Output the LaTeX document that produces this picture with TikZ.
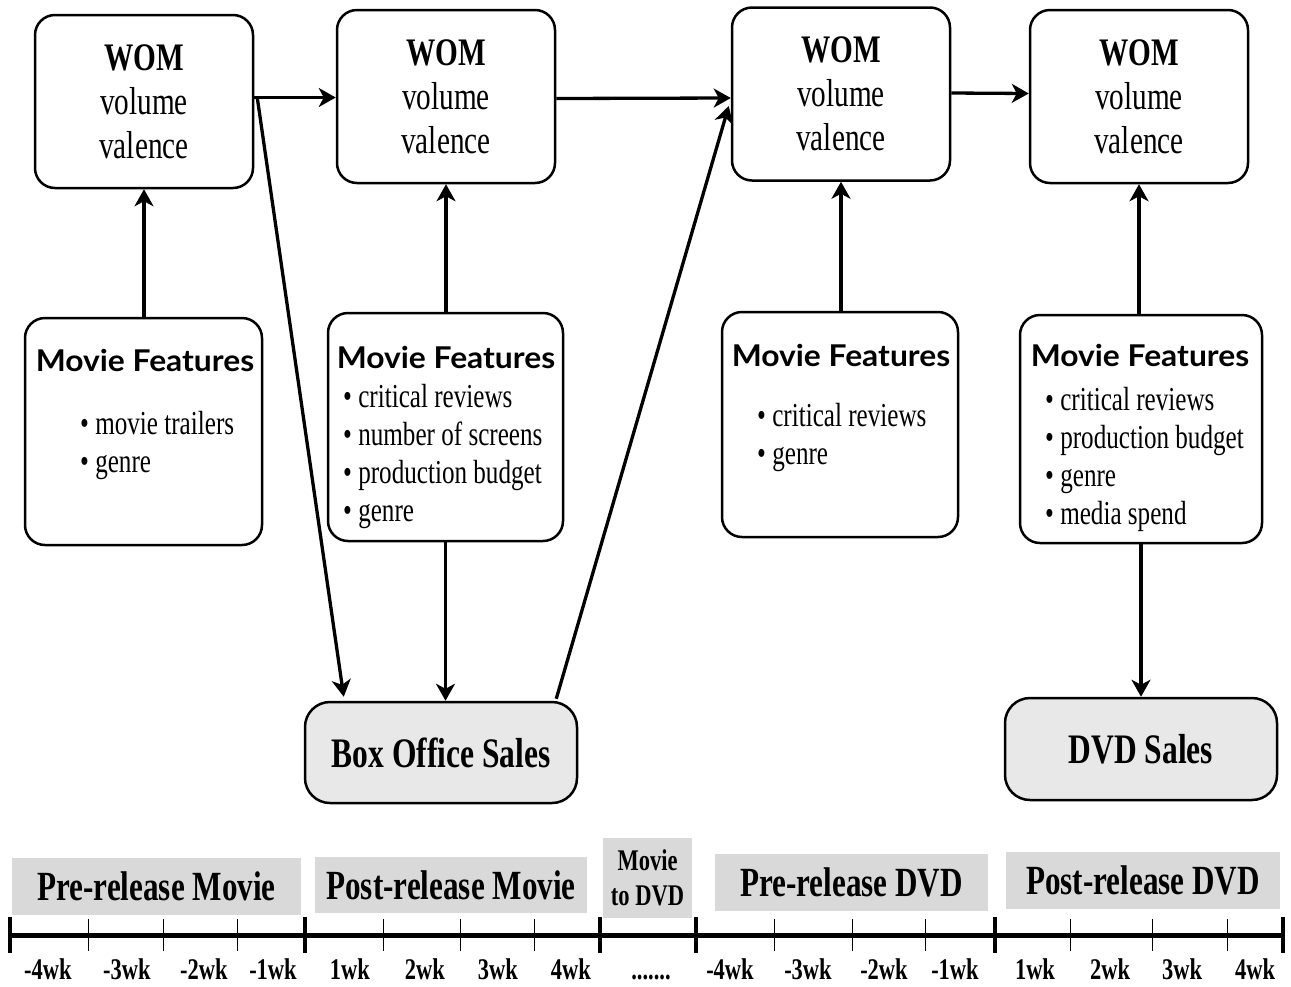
\documentclass[tikz,border=0pt]{standalone}
\usepackage{fontspec}
\setmainfont{Liberation Serif}
\newfontfamily\cserif[FakeStretch=0.75]{Liberation Serif}
\newfontfamily\sansb[FakeStretch=1.06]{Lato}
\usetikzlibrary{arrows.meta,calc}
\definecolor{lblgray}{HTML}{D9D9D9}
\definecolor{salesgray}{HTML}{E8E8E8}
\begin{document}
\begin{tikzpicture}[x=1pt,y=-1pt,
  wombox/.style={draw, line width=2.5pt, rounded corners=20pt, minimum width=218pt, minimum height=173pt, align=center, inner sep=0pt, font=\cserif\fontsize{39}{44}\selectfont},
  mfbox/.style={draw, line width=2.5pt, rounded corners=20pt, inner sep=0pt},
  salesbox/.style={draw, line width=2.5pt, rounded corners=25pt, fill=salesgray, inner sep=0pt, font=\cserif\bfseries\fontsize{42}{44}\selectfont},
  mftitle/.style={font=\sansb\bfseries\fontsize{30}{32}\selectfont, inner sep=0pt},
  bullets/.style={align=left, inner sep=0pt, anchor=north west, font=\cserif\fontsize{33.5}{38}\selectfont},
  arr/.style={line width=3.3pt, -{Stealth[length=17pt,width=19pt,inset=5pt]}},
  phase/.style={fill=lblgray, inner sep=0pt, font=\cserif\bfseries\fontsize{41.5}{42}\selectfont},
  wk/.style={font=\cserif\bfseries\fontsize{30}{30}\selectfont, inner sep=0pt},
  bigtick/.style={line width=3.5pt},
  smalltick/.style={line width=1pt}
]
\useasboundingbox (0,0) rectangle (1291,986);

% WOM boxes
\node[wombox] (w1) at (144,101.5) {{\bfseries WOM}\\volume\\valence};
\node[wombox] (w2) at (446,96.5) {{\bfseries WOM}\\volume\\valence};
\node[wombox] (w3) at (841,94) {{\bfseries WOM}\\volume\\valence};
\node[wombox] (w4) at (1139,96.5) {{\bfseries WOM}\\volume\\valence};

% Movie feature boxes
\node[mfbox, minimum width=237pt, minimum height=227pt] (m1) at (143.5,431.5) {};
\node[mfbox, minimum width=235pt, minimum height=228pt] (m2) at (445.5,427) {};
\node[mfbox, minimum width=236pt, minimum height=225pt] (m3) at (840,424.5) {};
\node[mfbox, minimum width=242pt, minimum height=228pt] (m4) at (1141,429) {};

\node[mftitle] (mt1) at (145,360) {Movie Features};
\node[mftitle] (mt2) at (446,357) {Movie Features};
\node[mftitle] (mt3) at (841,355) {Movie Features};
\node[mftitle] (mt4) at (1140,355) {Movie Features};

\node[bullets] (b1) at (80,411) {• movie trailers\\• genre};
\node[bullets] (b2) at (343,384) {• critical reviews\\• number of screens\\• production budget\\• genre};
\node[bullets] (b3) at (757,403) {• critical reviews\\• genre};
\node[bullets] (b4) at (1045,387) {• critical reviews\\• production budget\\• genre\\• media spend};

% Sales boxes
\node[salesbox, minimum width=272pt, minimum height=101pt] (bo) at (441,752.5) {Box Office Sales};
\node[salesbox, minimum width=272pt, minimum height=102pt] (dvd) at (1141,749) {DVD Sales};

% Connectors
\draw[arr] (m1.north -| w1.south) -- (w1.south);
\draw[arr] (m2.north -| w2.south) -- (w2.south);
\draw[arr] (m3.north -| w3.south) -- (w3.south);
\draw[arr] (m4.north -| w4.south) -- (w4.south);
\draw[arr] ($(w1.east)+(0,-4)$) -- ($(w2.west)+(0,1)$);
\draw[arr] ($(w2.east)+(0,2)$) -- ($(w3.west)+(0,4)$);
\draw[arr] ($(w3.east)+(0,-1)$) -- ($(w4.west)+(0,-3)$);
\draw[arr] ($(w1.east)+(3,-4)$) -- ($(bo.north west)+(40,-4)$);
\draw[arr] (m2.south) -- (bo.north -| m2.south);
\draw[arr] ($(bo.north east)+(-22,-2)$) -- ($(w3.west)+(-2,12)$);
\draw[arr] (m4.south -| dvd.north) -- (dvd.north);

% Phase labels
\node[phase, minimum width=289pt, minimum height=57pt] (p1) at (156.5,886.5) {Pre-release Movie};
\node[phase, minimum width=272pt, minimum height=56pt] (p2) at (451,885) {Post-release Movie};
\node[phase, minimum width=89pt, minimum height=80pt, align=center, font=\cserif\bfseries\fontsize{30}{35}\selectfont] (p3) at (647.5,878) {Movie\\to DVD};
\node[phase, minimum width=273pt, minimum height=57pt] (p4) at (851.5,882.5) {Pre-release DVD};
\node[phase, minimum width=274pt, minimum height=57pt] (p5) at (1143,880.5) {Post-release DVD};

% Timeline
\draw[line width=5pt] (10,935) -- (1283,935);
\foreach \x in {10,305,600,696,995,1283} \draw[bigtick] (\x,917) -- (\x,953);
\foreach \x in {88,163,237,383,460,534,774,852,925,1070,1152,1227} \draw[smalltick] (\x,919) -- (\x,951);

\node[wk] (k1) at (48,969) {-4wk};
\node[wk] (k2) at (127,969) {-3wk};
\node[wk] (k3) at (204,969) {-2wk};
\node[wk] (k4) at (273,969) {-1wk};
\node[wk] (k5) at (350,969) {1wk};
\node[wk] (k6) at (425,969) {2wk};
\node[wk] (k7) at (498,969) {3wk};
\node[wk] (k8) at (571,969) {4wk};
\node[wk] (k9) at (651,977) {.......};
\node[wk] (k10) at (730,969) {-4wk};
\node[wk] (k11) at (808,969) {-3wk};
\node[wk] (k12) at (884,969) {-2wk};
\node[wk] (k13) at (955,969) {-1wk};
\node[wk] (k14) at (1035,969) {1wk};
\node[wk] (k15) at (1110,969) {2wk};
\node[wk] (k16) at (1182,969) {3wk};
\node[wk] (k17) at (1255,969) {4wk};
\end{tikzpicture}
\end{document}
